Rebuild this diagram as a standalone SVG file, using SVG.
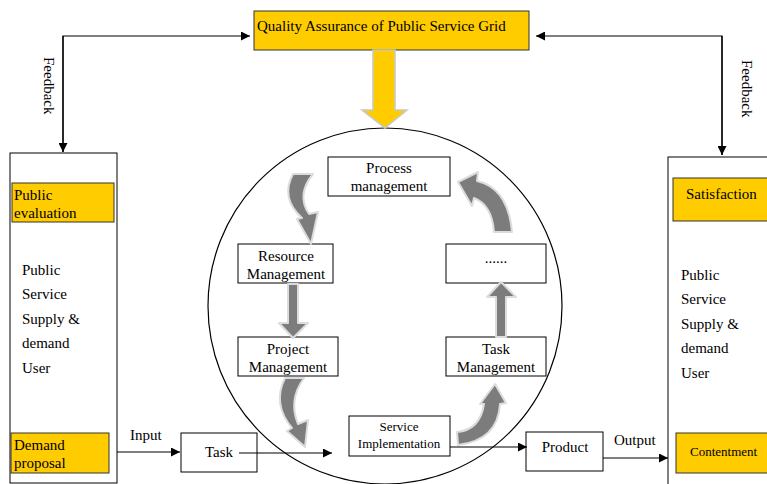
<svg xmlns="http://www.w3.org/2000/svg" width="767" height="484" viewBox="0 0 767 484">
<style>
text{font-family:"Liberation Serif","Times New Roman",serif;fill:#000}
.box{fill:#fff;stroke:#000;stroke-width:1}
.yel{fill:#FFCC00;stroke:#333;stroke-width:1}
.ln{fill:none;stroke:#000;stroke-width:1.2}
.garr{fill:#7c7c7c;stroke:#dcdcdc;stroke-width:2;stroke-linejoin:round}
</style>
<defs>
<marker id="ah" viewBox="0 0 10 10" refX="10" refY="5" markerWidth="9" markerHeight="9" markerUnits="userSpaceOnUse" orient="auto">
<path d="M0,0 L10,5 L0,10 Z" fill="#000"/>
</marker>
</defs>
<rect width="767" height="484" fill="#fff"/>

<ellipse id="circle" cx="385" cy="306" rx="177" ry="178" fill="none" stroke="#000" stroke-width="1.2"/>

<g id="quality">
<rect class="yel" x="254" y="11" width="275" height="39"/>
<text x="257" y="31" font-size="15">Quality Assurance of Public Service Grid</text>
</g>

<g id="bigarrow">
<path d="M373,50 L395,50 L395,110 L407,110 L385,128 L362,110 L373,110 Z" fill="#FFCC00" stroke="#c8c8c8" stroke-width="1.5"/>
</g>

<g id="left-column">
<rect class="box" x="10" y="153" width="107" height="330"/>
<rect class="yel" x="12" y="183" width="102" height="39"/>
<text x="14" y="200" font-size="15">Public</text>
<text x="14" y="218" font-size="15">evaluation</text>
<text x="22" y="275" font-size="15">Public</text>
<text x="22" y="299" font-size="15">Service</text>
<text x="22" y="324" font-size="15">Supply &amp;</text>
<text x="22" y="348" font-size="15">demand</text>
<text x="22" y="373" font-size="15">User</text>
<rect class="yel" x="11" y="433" width="98" height="40"/>
<text x="14" y="450" font-size="15">Demand</text>
<text x="14" y="468" font-size="15">proposal</text>
</g>

<g id="right-column">
<rect class="box" x="668" y="157" width="110" height="340"/>
<rect class="yel" x="673" y="178" width="100" height="43"/>
<text x="686" y="199" font-size="15">Satisfaction</text>
<text x="681" y="280" font-size="15">Public</text>
<text x="681" y="304" font-size="15">Service</text>
<text x="681" y="329" font-size="15">Supply &amp;</text>
<text x="681" y="353" font-size="15">demand</text>
<text x="681" y="378" font-size="15">User</text>
<rect class="yel" x="676" y="433" width="100" height="40"/>
<text x="690" y="456" font-size="13">Contentment</text>
</g>

<g id="process">
<rect class="box" x="328" y="157" width="122" height="39"/>
<text x="389" y="173" font-size="15" text-anchor="middle">Process</text>
<text x="389" y="191" font-size="15" text-anchor="middle">management</text>
</g>

<g id="resource">
<rect class="box" x="238" y="244" width="95" height="39" stroke-width="2"/>
<text x="286" y="261" font-size="15" text-anchor="middle">Resource</text>
<text x="286" y="279" font-size="15" text-anchor="middle">Management</text>
</g>

<g id="dots">
<rect class="box" x="446" y="244" width="100" height="39"/>
<text x="496" y="263" font-size="15" text-anchor="middle">......</text>
</g>

<g id="project">
<rect class="box" x="238" y="337" width="100" height="39"/>
<text x="288" y="354" font-size="15" text-anchor="middle">Project</text>
<text x="288" y="372" font-size="15" text-anchor="middle">Management</text>
</g>

<g id="taskmgmt">
<rect class="box" x="446" y="337" width="100" height="39"/>
<text x="496" y="354" font-size="15" text-anchor="middle">Task</text>
<text x="496" y="372" font-size="15" text-anchor="middle">Management</text>
</g>

<g id="service">
<rect class="box" x="349" y="416" width="101" height="40"/>
<text x="399" y="431" font-size="13" text-anchor="middle">Service</text>
<text x="399" y="448" font-size="13" text-anchor="middle">Implementation</text>
</g>

<g id="task">
<rect class="box" x="181" y="433" width="76" height="39"/>
<text x="205" y="457" font-size="15">Task</text>
</g>

<g id="product">
<rect class="box" x="526" y="432" width="77" height="39"/>
<text x="565" y="452" font-size="15" text-anchor="middle">Product</text>
</g>

<g id="cycle-arrows">
<path class="garr" d="M293,174 L313,174 Q296,195 309,214 L318,212 L311,244 L297,219 L302,218 Q280,198 293,174 Z"/>
<path class="garr" d="M288,284 L298,284 L298,323 L308,323 L293,338 L279,323 L288,323 Z"/>
<path class="garr" d="M285,378 L304,378 Q288,400 298,424 L308,420 L305,447 L287,431 L292,428 Q272,404 285,378 Z"/>
<path class="garr" d="M457,432 Q480,430 484,404 L480,404 L495,384 L506,403 L500,404 Q498,440 458,445 Z"/>
<path class="garr" d="M496,337 L506,337 L506,297 L516,297 L501,282 L487,297 L496,297 Z"/>
<path class="garr" d="M458,182 L478,172 L477,181 Q508,188 512,232 L494,232 Q492,205 474,198 L472,206 Z"/>
</g>

<g id="connectors">
<path class="ln" d="M63,152 L63,36 L250,36" marker-end="url(#ah)"/>
<path class="ln" d="M63,36 L63,152" marker-end="url(#ah)"/>
<path class="ln" d="M722,155 L722,36 L536,36" marker-end="url(#ah)"/>
<path class="ln" d="M722,36 L722,155" marker-end="url(#ah)"/>
<path class="ln" d="M117,452 L180,452" marker-end="url(#ah)"/>
<path class="ln" d="M239,453 L332,453" marker-end="url(#ah)"/>
<path class="ln" d="M450,447 L527,447" marker-end="url(#ah)"/>
<path class="ln" d="M603,458 L668,458" marker-end="url(#ah)"/>
<text x="130" y="440" font-size="15">Input</text>
<text x="614" y="445" font-size="15">Output</text>
<text x="0" y="0" font-size="15" transform="translate(44,57) rotate(90)">Feedback</text>
<text x="0" y="0" font-size="15" transform="translate(742,60) rotate(90)">Feedback</text>
</g>
</svg>
